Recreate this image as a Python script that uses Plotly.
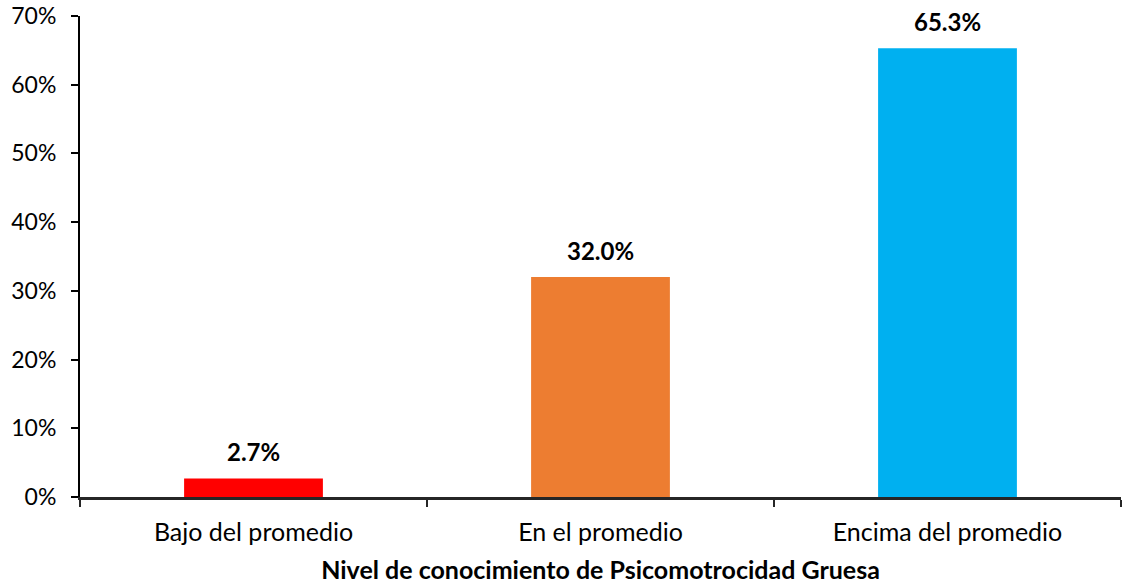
import plotly.graph_objects as go

categories = ["Bajo del promedio", "En el promedio", "Encima del promedio"]
values = [2.7, 32.0, 65.3]
colors = ["#FF0000", "#ED7D31", "#00B0F0"]
y_ticks = [0, 10, 20, 30, 40, 50, 60, 70]
y_tick_labels = [f"{t}%" for t in y_ticks]

FONT = "Lato"

fig = go.Figure()
fig.add_trace(go.Bar(
    x=categories, y=values, marker=dict(color=colors, line=dict(width=0)),
    width=0.4, hoverinfo="x+y",
))

for c, v in zip(categories, values):
    fig.add_annotation(x=c, y=v, text=f"<b>{v:.1f}%</b>", showarrow=False,
                       yanchor="bottom", yshift=10,
                       font=dict(family=FONT, size=24, color="#000000"))

fig.update_layout(
    width=1124, height=584,
    margin=dict(l=80, r=3, t=16, b=87, autoexpand=False),
    paper_bgcolor="white", plot_bgcolor="white",
    showlegend=False,
    font=dict(family=FONT, size=24, color="#000000"),
)
fig.update_xaxes(
    type="category", showline=True, linecolor="#262626", linewidth=3,
    ticks="outside", tickson="boundaries", ticklen=7, tickwidth=2, tickcolor="#262626",
    ticklabelstandoff=11,
    showgrid=False, tickfont=dict(family=FONT, size=25, color="#000000"),
    title=dict(text="<b>Nivel de conocimiento de Psicomotrocidad Gruesa</b>",
               font=dict(family=FONT, size=25, color="#000000"), standoff=20),
    range=[-0.5, 2.5], automargin=False,
)
fig.update_yaxes(
    range=[0, 70], tickmode="array", tickvals=y_ticks, ticktext=y_tick_labels,
    showline=True, linecolor="#000000", linewidth=2,
    ticks="outside", ticklen=7, tickwidth=2, tickcolor="#000000",
    ticklabelstandoff=10,
    showgrid=False, zeroline=False, automargin=False,
    tickfont=dict(family=FONT, size=23, color="#000000"),
)

fig.write_html("out.html")
